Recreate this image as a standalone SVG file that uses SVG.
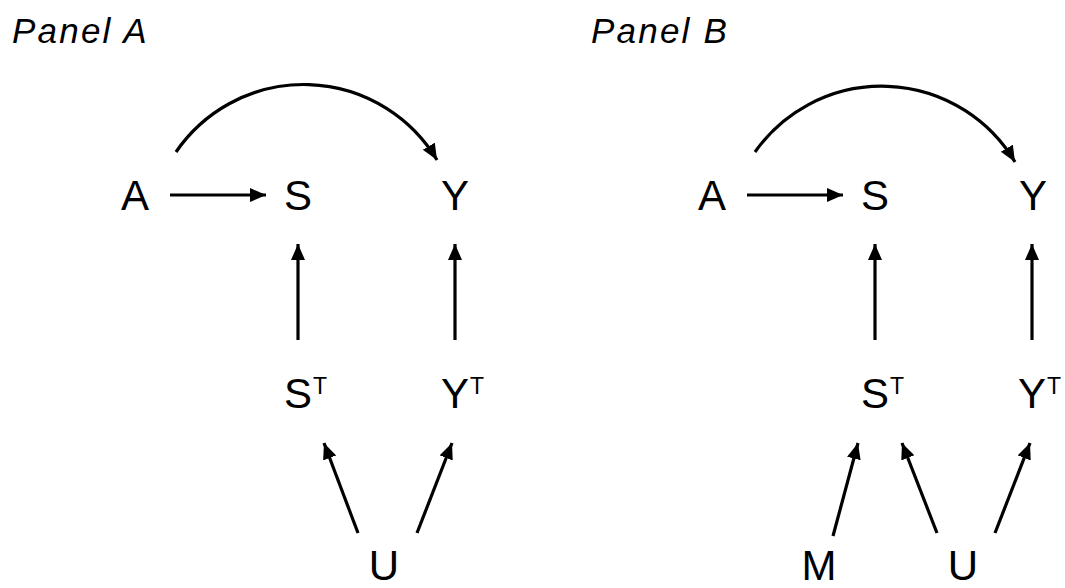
<svg xmlns="http://www.w3.org/2000/svg" width="1065" height="588" viewBox="0 0 1065 588">
<style>
.lbl{font-family:"Liberation Sans",Arial,sans-serif;font-size:42px;fill:#000;text-anchor:middle}
.sup{font-family:"Liberation Sans",Arial,sans-serif;font-size:23px;fill:#000}
.title{font-family:"Liberation Sans",Arial,sans-serif;font-size:35px;font-style:italic;fill:#000;letter-spacing:2.2px}
.e{fill:none;stroke:#000;stroke-width:3.2;marker-end:url(#ah)}
</style>
<defs>
<marker id="ah" markerUnits="userSpaceOnUse" markerWidth="17" markerHeight="15" refX="16" refY="7" orient="auto">
<path d="M0,0 L16,7 L0,14 z" fill="#000"/>
</marker>
</defs>
<g id="titles">
<text class="title" x="12" y="43">Panel A</text>
<text class="title" x="591" y="43">Panel B</text>
</g>
<g id="connectors">
<path class="e" d="M176,152 A155,155 0 0 1 437,160"/>
<path class="e" d="M170,195 L266,195"/>
<path class="e" d="M298,340 L298,244"/>
<path class="e" d="M455,340 L455,244"/>
<path class="e" d="M358,533 L324,443"/>
<path class="e" d="M417,533 L452,443"/>
<path class="e" d="M755,152 A155,155 0 0 1 1015,162"/>
<path class="e" d="M747,195 L843,195"/>
<path class="e" d="M875,340 L875,244"/>
<path class="e" d="M1032,340 L1032,244"/>
<path class="e" d="M833,536 L858,443"/>
<path class="e" d="M937,533 L902,443"/>
<path class="e" d="M995,533 L1030,443"/>
</g>
<g id="A1"><text class="lbl" x="135" y="210">A</text></g>
<g id="S1"><text class="lbl" x="298" y="210">S</text></g>
<g id="Y1"><text class="lbl" x="455" y="210">Y</text></g>
<g id="ST1"><text class="lbl" x="298" y="408">S</text><text class="sup" x="313" y="394">T</text></g>
<g id="YT1"><text class="lbl" x="455" y="408">Y</text><text class="sup" x="470" y="394">T</text></g>
<g id="U1"><text class="lbl" x="384" y="580">U</text></g>
<g id="A2"><text class="lbl" x="712" y="210">A</text></g>
<g id="S2"><text class="lbl" x="875" y="210">S</text></g>
<g id="Y2"><text class="lbl" x="1033" y="210">Y</text></g>
<g id="ST2"><text class="lbl" x="875" y="408">S</text><text class="sup" x="890" y="394">T</text></g>
<g id="YT2"><text class="lbl" x="1032" y="408">Y</text><text class="sup" x="1047" y="394">T</text></g>
<g id="M2"><text class="lbl" x="819" y="580">M</text></g>
<g id="U2"><text class="lbl" x="963" y="580">U</text></g>
</svg>
